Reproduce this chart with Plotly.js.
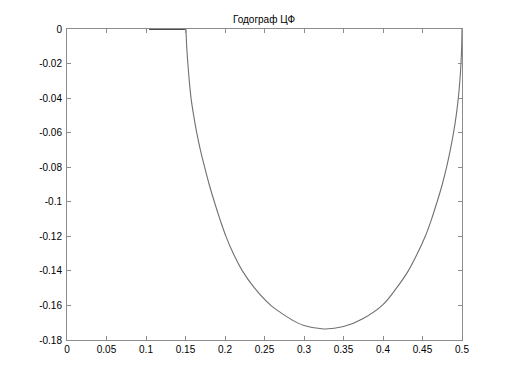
<!DOCTYPE html>
<html>
<head>
<meta charset="utf-8">
<script src="https://cdn.plot.ly/plotly-3.0.1.min.js"></script>
<style>html,body{margin:0;padding:0;background:#fff;}#chart{width:510px;height:382px;}</style>
</head>
<body>
<div id="chart"></div>
<script>
// Hodograph curve (Re, Im)
var reVals = [0.1506, 0.1515, 0.153, 0.1548, 0.157, 0.1603, 0.1642, 0.1688, 0.1742, 0.180, 0.1865, 0.1935, 0.2012, 0.2105, 0.222, 0.2375, 0.258, 0.270, 0.285, 0.300, 0.325, 0.350, 0.375, 0.400, 0.417, 0.432, 0.4435, 0.4535, 0.4615, 0.4685, 0.475, 0.4805, 0.4852, 0.4893, 0.4927, 0.4953, 0.4973, 0.4987, 0.4996, 0.5];
var imVals = [0, -0.01, -0.02, -0.03, -0.04, -0.05, -0.06, -0.07, -0.08, -0.09, -0.10, -0.11, -0.12, -0.13, -0.14, -0.15, -0.16, -0.1640, -0.1684, -0.1716, -0.1736, -0.1722, -0.1675, -0.1595, -0.15, -0.14, -0.13, -0.12, -0.11, -0.10, -0.09, -0.08, -0.07, -0.06, -0.05, -0.04, -0.03, -0.02, -0.01, 0];
// Dark segment along zero line
var segRe = [0.104, 0.1506];
var segIm = [0, 0];
// Tick labels
var xTickVals = [0, 0.05, 0.1, 0.15, 0.2, 0.25, 0.3, 0.35, 0.4, 0.45, 0.5];
var xTickText = ["0", "0.05", "0.1", "0.15", "0.2", "0.25", "0.3", "0.35", "0.4", "0.45", "0.5"];
var yTickVals = [0, -0.02, -0.04, -0.06, -0.08, -0.1, -0.12, -0.14, -0.16, -0.18];
var yTickText = ["0", "-0.02", "-0.04", "-0.06", "-0.08", "-0.1", "-0.12", "-0.14", "-0.16", "-0.18"];
var titleText = "Годограф ЦФ";

var traces = [
  {x: reVals, y: imVals, type: 'scatter', mode: 'lines',
   line: {color: '#707070', width: 1.1, shape: 'spline', smoothing: 1},
   cliponaxis: false, hoverinfo: 'skip'},
  {x: segRe, y: segIm, type: 'scatter', mode: 'lines',
   line: {color: '#111111', width: 1.5}, cliponaxis: false, hoverinfo: 'skip'}
];

var axisCommon = {
  showgrid: false, zeroline: false, showline: true, linecolor: '#8c8c8c', linewidth: 1,
  mirror: 'ticks', ticks: 'inside', ticklen: 4, tickcolor: '#8c8c8c', tickwidth: 1,
  tickmode: 'array', tickfont: {family: 'Liberation Sans, Arial, sans-serif', size: 10, color: '#000'}
};

var layout = {
  width: 510, height: 382,
  margin: {l: 67, r: 48, t: 29, b: 42},
  paper_bgcolor: '#fff', plot_bgcolor: '#fff',
  showlegend: false,
  title: {text: titleText, x: 0.5177, xanchor: 'center', y: 0.95, yanchor: 'middle',
          font: {family: 'Liberation Sans, Arial, sans-serif', size: 10, color: '#000'}},
  xaxis: Object.assign({}, axisCommon, {range: [0, 0.5], tickvals: xTickVals, ticktext: xTickText}),
  yaxis: Object.assign({}, axisCommon, {range: [-0.18, 0], tickvals: yTickVals, ticktext: yTickText, ticklabelstandoff: 2})
};

Plotly.newPlot('chart', traces, layout, {displayModeBar: false, staticPlot: true});
</script>
</body>
</html>
